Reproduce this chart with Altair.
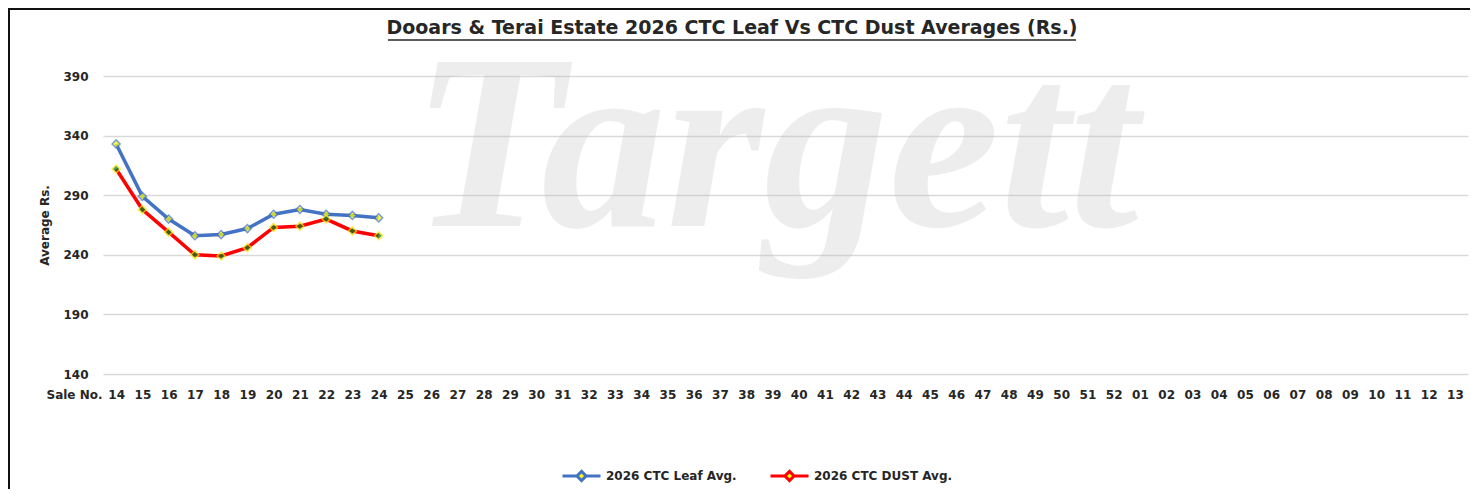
import altair as alt
import pandas as pd

# ---- data ----
sale_nos = ["14", "15", "16", "17", "18", "19", "20", "21", "22", "23", "24", "25", "26",
            "27", "28", "29", "30", "31", "32", "33", "34", "35", "36", "37", "38", "39",
            "40", "41", "42", "43", "44", "45", "46", "47", "48", "49", "50", "51", "52",
            "01", "02", "03", "04", "05", "06", "07", "08", "09", "10", "11", "12", "13"]
reported_sales = ["14", "15", "16", "17", "18", "19", "20", "21", "22", "23", "24"]
leaf_avg = [333, 289, 270, 256, 257, 262, 274, 278, 274, 273, 271]
dust_avg = [312, 278, 259, 240, 239, 246, 263, 264, 270, 260, 256]
series_names = ["2026 CTC Leaf Avg.", "2026 CTC DUST Avg."]
y_ticks = [140, 190, 240, 290, 340, 390]
title_text = "Dooars & Terai Estate 2026 CTC Leaf Vs CTC Dust Averages (Rs.)"

rows = []
for s, v in zip(reported_sales, leaf_avg):
    rows.append({"sale": s, "avg": v, "series": series_names[0]})
for s, v in zip(reported_sales, dust_avg):
    rows.append({"sale": s, "avg": v, "series": series_names[1]})
df = pd.DataFrame(rows)

W, H = 1365, 298
FONT = "DejaVu Sans"
one = alt.Data(values=[{}])

x_enc = alt.X("sale:O", sort=sale_nos,
              scale=alt.Scale(domain=sale_nos, padding=0.5),
              axis=alt.Axis(title="Sale No.", labelAngle=0, labelPadding=15,
                            titleAnchor="start", titleAlign="right", titleBaseline="middle",
                            titleX=-1, titleY=20, grid=False))
y_enc = alt.Y("avg:Q", scale=alt.Scale(domain=[140, 390], nice=False, zero=False),
              axis=alt.Axis(values=y_ticks, title="Average Rs.", labelPadding=15,
                            titleX=-59, titleY=H / 2, titleAngle=-90,
                            titleAlign="center", titleBaseline="middle"))

lines = alt.Chart(df).mark_line(strokeWidth=3.5).encode(
    x=x_enc, y=y_enc,
    color=alt.Color("series:N", sort=series_names,
                    scale=alt.Scale(domain=series_names, range=["#4472C4", "#FF0000"]),
                    legend=alt.Legend(
                        title=None, orient="none", direction="horizontal",
                        legendX=458, legendY=379,
                        symbolType="M-1,0L-0.24,0M0.24,0L1,0M0,-0.24L0.24,0L0,0.24L-0.24,0Z",
                        symbolSize=1444, symbolStrokeWidth=3, symbolFillColor="#FFFF00",
                        labelFont=FONT, labelFontSize=12, labelFontWeight="bold",
                        labelColor="#262626", labelOffset=4, columnPadding=27)),
)

points = alt.Chart(df).mark_point(shape="diamond", size=65, filled=True, strokeWidth=1.5).encode(
    x=alt.X("sale:O", sort=sale_nos), y="avg:Q",
    fill=alt.Fill("series:N", scale=alt.Scale(domain=series_names, range=["#FFFF00", "#007A1E"]), legend=None),
    stroke=alt.Stroke("series:N", scale=alt.Scale(domain=series_names, range=["#4472C4", "#FFE000"]), legend=None),
)

watermark = alt.Chart(one).mark_text(
    text="Targett", font="Liberation Serif", fontStyle="italic", fontWeight="bold",
    fontSize=250, color="#b8b8b8", opacity=0.24, align="center", baseline="alphabetic"
).encode(x=alt.value(672), y=alt.value(150))

title = alt.Chart(one).mark_text(
    text=title_text, font=FONT, fontSize=19, fontWeight="bold", color="#262626",
    align="center", baseline="alphabetic"
).encode(x=alt.value(629), y=alt.value(-42))

underline = alt.Chart(one).mark_rule(color="#262626", strokeWidth=1.5).encode(
    x=alt.value(285), x2=alt.value(973), y=alt.value(-36))

frame = alt.Chart(one).mark_rect(fill="transparent", stroke="#111111", strokeWidth=2).encode(
    x=alt.value(-94), x2=alt.value(W + 300), y=alt.value(-67), y2=alt.value(H + 300))

chart = alt.layer(watermark, frame, title, underline, lines, points).resolve_scale(
    fill="independent", stroke="independent"
).properties(
    width=W, height=H,
    autosize=alt.AutoSizeParams(type="none"),
    padding={"left": 95, "top": 68, "right": 2, "bottom": 115},
).configure_view(stroke=None).configure_axis(
    domain=False, ticks=False, tickSize=0,
    gridColor="#d9d9d9", gridWidth=1.5,
    labelFont=FONT, labelFontSize=12, labelFontWeight="bold", labelColor="#262626",
    titleFont=FONT, titleFontSize=12, titleFontWeight="bold", titleColor="#262626",
)

chart.save("out.html", embed_options={"renderer": "svg", "actions": False})
